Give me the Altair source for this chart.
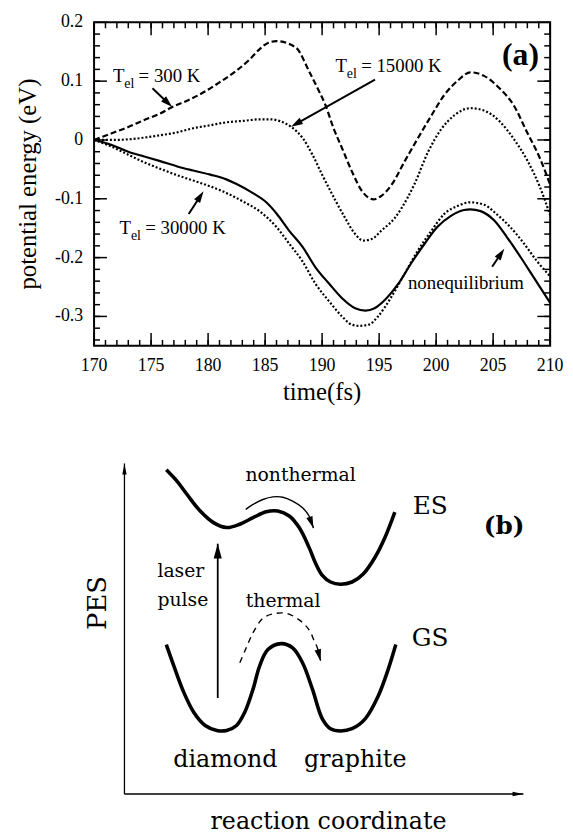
import math
import altair as alt
import pandas as pd

# ---------------- panel (a): potential energy vs time ----------------
t300 = [170, 171.5, 173, 174.4, 175.8, 176.85, 178.2, 179.6, 181, 182.5, 183.65, 184.5, 185.25, 186, 187.7,
        188.9, 189.7, 190.3, 191, 191.75, 192.6, 193.5, 194.5, 195.2, 196.1, 197.25, 198.4, 199.6, 200.7,
        201.9, 203, 204.2, 205.6, 206.8, 207.95, 209.1, 210]
e300 = [0, 0.011, 0.022, 0.034, 0.045, 0.056, 0.067, 0.081, 0.098, 0.118, 0.137, 0.154, 0.165, 0.168, 0.157,
        0.115, 0.084, 0.059, 0.020, -0.014, -0.053, -0.087, -0.101, -0.095, -0.076, -0.036, 0.003, 0.042, 0.076,
        0.101, 0.115, 0.109, 0.087, 0.059, 0.014, -0.031, -0.076]

t15000 = [170, 171.5, 173, 174.4, 175.8, 177.3, 178.7, 180.2, 181.6, 183.1, 184.5, 185.5, 186.3, 187.3, 188.3,
          189.15, 190, 191.2, 192, 192.9, 193.6, 194.4, 195.2, 196.4, 197.5, 198.1, 199.3, 200.4, 201.6, 203,
          204.2, 205.6, 206.8, 208, 209.1, 210]
e15000 = [0, 0.0, 0.001, 0.004, 0.008, 0.013, 0.020, 0.025, 0.030, 0.0325, 0.035, 0.035, 0.032, 0.022, 0.003,
          -0.025, -0.059, -0.104, -0.132, -0.160, -0.171, -0.168, -0.154, -0.132, -0.098, -0.075, -0.020, 0.017,
          0.042, 0.054, 0.050, 0.031, 0.002, -0.035, -0.080, -0.128]

t30000 = [170, 171.5, 173, 174.4, 175.8, 177.3, 178.7, 180.2, 181.6, 183.1, 184.5, 186, 187.1, 188.3, 189.4,
          190.6, 191.75, 192.6, 193.2, 194.1, 194.9, 196.1, 197.25, 198.4, 199.6, 200.7, 201.9, 203, 204.2,
          205.3, 206.5, 207.7, 208.8, 210]
e30000 = [0, -0.011, -0.025, -0.038, -0.049, -0.060, -0.069, -0.079, -0.090, -0.105, -0.121, -0.148, -0.176,
          -0.207, -0.244, -0.274, -0.300, -0.314, -0.316, -0.314, -0.300, -0.266, -0.227, -0.188, -0.154, -0.126,
          -0.112, -0.106, -0.110, -0.126, -0.148, -0.176, -0.205, -0.232]

tneq = [170, 171.5, 173, 174.4, 175.8, 177.3, 178.7, 180.2, 181.6, 182.5, 183.9, 185.1, 186, 187.1, 188.3, 189.4,
        190.6, 191.75, 192.9, 193.8, 194.6, 195.5, 196.7, 197.8, 199, 200.1, 201.3, 202.45, 203, 203.9, 205.1,
        206.2, 207.4, 208.5, 210]
eneq = [0, -0.008, -0.020, -0.028, -0.036, -0.045, -0.052, -0.059, -0.067, -0.075, -0.090, -0.106, -0.125,
        -0.154, -0.182, -0.216, -0.244, -0.269, -0.286, -0.290, -0.286, -0.272, -0.244, -0.210, -0.176, -0.148,
        -0.129, -0.119, -0.118, -0.121, -0.137, -0.165, -0.199, -0.232, -0.277]

label_temps = ["300", "15000", "30000"]
label_t = [171.65, 191.17, 172.23]
label_e = [0.0992, 0.1148, -0.1596]

arrow_tail_t = [175.12, 194.64, 178.30, 204.91]
arrow_tail_e = [0.088, 0.1026, -0.126, -0.2156]
arrow_tip_t = [176.85, 187.27, 179.6, 205.98]
arrow_tip_e = [0.056, 0.0224, -0.087, -0.1848]

noneq_text = ["nonequilibrium"]
noneq_t = [197.53]
noneq_e = [-0.2537]

tag_a = ["(a)"]
tag_a_t = [207.4]
tag_a_e = [0.1278]

x_major = list(range(170, 211, 5))
x_labels = [str(v) for v in x_major]
x_minor = list(range(170, 211))
y_major = [-0.3, -0.2, -0.1, 0.0, 0.1, 0.2]
y_labels = ["-0.3", "-0.2", "-0.1", "0", "0.1", "0.2"]
y_minor = [round(-0.34 + 0.02 * i, 2) for i in range(27)]
x_title = ["time(fs)"]
y_title = ["potential energy (eV)"]

# ---------------- panel (b): schematic PES ----------------
es_x = [73, 84, 94, 107.3, 120.7, 134, 147.3, 160.7, 174, 185.7, 197.3, 207.3, 217.3, 224, 230.7, 239, 249,
        260.7, 272.3, 284, 294, 304]
es_y = [361.7, 350, 336.7, 320, 308.3, 303.3, 306.7, 313.3, 319.3, 320, 315, 303.3, 283.3, 267, 255, 248.3, 246,
        248.3, 256.7, 273.3, 293.3, 319]
gs_x = [73, 80.7, 90.7, 100.7, 112.3, 124, 134, 144, 152.3, 160.7, 167.3, 175.7, 189, 200.7, 210.7, 220.7,
        230.7, 239, 249, 260.7, 274, 287.3, 297.3, 305]
gs_y = [185, 163.3, 136.7, 116.7, 103.3, 98.3, 98.3, 103.3, 116.7, 140, 163.3, 180, 186, 181.7, 166.7, 140,
        110, 100, 97.7, 100, 110, 133.3, 160, 185]
nt_x = [153.3, 160.7, 170.7, 180.7, 190.7, 200.7, 210.7, 217.3, 221.7]
nt_y = [321.7, 326.7, 331.7, 334.3, 334, 330, 323.3, 315, 302.7]
th_x = [147.3, 152.3, 157.3, 162.3, 170.7, 180.7, 194, 207.3, 217.3, 222, 225.7, 229]
th_y = [166.7, 178.3, 190, 200, 211.7, 216, 216.7, 210, 200, 190, 181.7, 168.3]
laser_x = [125, 125]
laser_y = [131, 287]
vaxis_x = [30.7, 30.7]
vaxis_y = [34, 368]
haxis_x = [30.7, 434]
haxis_y = [34, 34]

b_small_text = ["nonthermal", "thermal", "laser", "pulse"]
b_small_x = [153, 153.3, 64, 64]
b_small_y = [350, 223.3, 253.3, 224.3]
b_state_text = ["ES", "GS"]
b_state_x = [322, 321]
b_state_y = [317, 183.3]
b_phase_text = ["diamond", "graphite"]
b_phase_x = [80, 212.3]
b_phase_y = [61.7, 61.7]
b_tag = ["(b)"]
b_tag_x = [394]
b_tag_y = [297]
b_xtitle = ["reaction coordinate"]
b_xtitle_x = [237]
b_xtitle_y = [-1]
b_ytitle = ["PES"]
b_ytitle_x = [4]
b_ytitle_y = [227]

# ---------------- helpers ----------------
SERIF = "Liberation Serif"
CM = "DejaVu Serif"
WA, HA = 461, 327
WB, HB = 461, 375
MAJOR, MINOR = 13, 6
T0, T1 = 170, 210
E0, E1 = -0.35, 0.2
kxa, kya = WA / (T1 - T0), HA / (E1 - E0)


def head_rows(tails, tips, kx, ky, length):
    rows = []
    for (x0, y0), (x1, y1) in zip(tails, tips):
        sdx = (x1 - x0) * kx
        sdy = -(y1 - y0) * ky
        n = math.hypot(sdx, sdy)
        ux, uy = sdx / n, sdy / n
        ang = math.degrees(math.atan2(ux, -uy)) % 360
        cx = x1 - ux * length / 2 / kx
        cy = y1 + uy * length / 2 / ky
        rows.append({"x": cx, "y": cy, "ang": ang, "x0": x0, "y0": y0})
    return pd.DataFrame(rows)


def arrow_shape(hw):
    return f"M0,-1L{hw},1L{-hw},1Z"


# ---------------- panel (a) ----------------
xs = alt.Scale(domain=[T0, T1], nice=False, zero=False)
ys = alt.Scale(domain=[E0, E1], nice=False, zero=False)


def X(field):
    return alt.X(f"{field}:Q", scale=xs, axis=None)


def Y(field):
    return alt.Y(f"{field}:Q", scale=ys, axis=None)


# inward ticks on all four sides, built as short two-point line segments
tick_rows = []
for side, vals, length in [("b", x_major, MAJOR), ("b", x_minor, MINOR), ("t", x_major, MAJOR),
                           ("t", x_minor, MINOR), ("l", y_major, MAJOR), ("l", y_minor, MINOR),
                           ("r", y_major, MAJOR), ("r", y_minor, MINOR)]:
    for i, v in enumerate(vals):
        tid = f"{side}{length}_{i}"
        if side == "b":
            pts = [(v, E0), (v, E0 + length / kya)]
        elif side == "t":
            pts = [(v, E1), (v, E1 - length / kya)]
        elif side == "l":
            pts = [(T0, v), (T0 + length / kxa, v)]
        else:
            pts = [(T1, v), (T1 - length / kxa, v)]
        for k, (tt, ee) in enumerate(pts):
            tick_rows.append({"t": tt, "e": ee, "tid": tid, "k": k})
ticks_df = pd.DataFrame(tick_rows)

ticks_layer = alt.Chart(ticks_df).mark_line(color="black", strokeWidth=1.5).encode(
    x=X("t"), y=Y("e"), detail="tid:N", order="k:Q")


def curve(t, e, **kw):
    return alt.Chart(pd.DataFrame({"t": t, "e": e})).mark_line(
        color="black", strokeWidth=2.2, interpolate="monotone", **kw
    ).encode(x=X("t"), y=Y("e"))


heads_a = head_rows(list(zip(arrow_tail_t, arrow_tail_e)), list(zip(arrow_tip_t, arrow_tip_e)), kxa, kya, 12)

arrow_lines_a = alt.Chart(heads_a).mark_rule(color="black", strokeWidth=2).encode(
    x=X("x0"), y=Y("y0"), x2="x:Q", y2="y:Q")
arrow_heads_a = alt.Chart(heads_a).mark_point(
    shape=arrow_shape(0.6), filled=True, color="black", opacity=1, size=144, strokeWidth=0
).encode(x=X("x"), y=Y("y"), angle=alt.Angle("ang:Q", scale=None))

lab_df = pd.DataFrame({"t": label_t, "e": label_e, "temp": label_temps})
lab_df["rest"] = "= " + lab_df["temp"] + " K"


def text_a(df, field, **kw):
    return alt.Chart(df).mark_text(color="black", font=SERIF, **kw).encode(
        x=X("t"), y=Y("e"), text=f"{field}:N")


lab_T = text_a(lab_df.assign(T="T"), "T", align="left", baseline="alphabetic", fontSize=19)
lab_el = text_a(lab_df.assign(el="el"), "el", align="left", baseline="alphabetic", fontSize=14, dx=11.5, dy=6)
lab_rest = text_a(lab_df, "rest", align="left", baseline="alphabetic", fontSize=19, dx=26)
noneq = text_a(pd.DataFrame({"t": noneq_t, "e": noneq_e, "s": noneq_text}), "s", align="left",
               baseline="alphabetic", fontSize=19)
tag_a_layer = text_a(pd.DataFrame({"t": tag_a_t, "e": tag_a_e, "s": tag_a}), "s", align="center",
                     baseline="alphabetic", fontSize=32, fontWeight="bold")

# tick labels and axis titles (drawn as text at the axis edges)
xlab = text_a(pd.DataFrame({"t": x_major, "e": [E0] * len(x_major), "s": x_labels}), "s",
              align="center", baseline="alphabetic", fontSize=18, dy=25)
ylab = text_a(pd.DataFrame({"t": [T0] * len(y_major), "e": y_major, "s": y_labels}), "s",
              align="right", baseline="middle", fontSize=18, dx=-11)
xtit = text_a(pd.DataFrame({"t": [(T0 + T1) / 2], "e": [E0], "s": x_title}), "s",
              align="center", baseline="alphabetic", fontSize=25, dy=55)
ytit = text_a(pd.DataFrame({"t": [T0 - 67 / kxa], "e": [(E0 + E1) / 2], "s": y_title}), "s",
              align="center", baseline="middle", fontSize=25, angle=270)

panel_a = alt.layer(
    curve(t300, e300, strokeDash=[6, 3]),
    curve(t15000, e15000, strokeDash=[2, 2]),
    curve(t30000, e30000, strokeDash=[2, 2]),
    curve(tneq, eneq),
    ticks_layer,
    arrow_lines_a, arrow_heads_a,
    lab_T, lab_el, lab_rest, noneq, tag_a_layer,
    xlab, ylab, xtit, ytit,
).properties(width=WA, height=HA, view=alt.ViewBackground(stroke="black", strokeWidth=2))

# ---------------- panel (b) ----------------
bxs = alt.Scale(domain=[0, WB], nice=False, zero=False)
bys = alt.Scale(domain=[0, HB], nice=False, zero=False)


def bx(field="x"):
    return alt.X(f"{field}:Q", scale=bxs, axis=None)


def by(field="y"):
    return alt.Y(f"{field}:Q", scale=bys, axis=None)


def path_b(xv, yv, **kw):
    return alt.Chart(pd.DataFrame({"x": xv, "y": yv, "o": list(range(len(xv)))})).mark_line(
        color="black", **kw).encode(x=bx(), y=by(), order="o:Q")


def heads_b(xv, yv, length, hw):
    df = head_rows([(xv[-2], yv[-2])], [(xv[-1], yv[-1])], 1, 1, length)
    return alt.Chart(df).mark_point(shape=arrow_shape(hw), filled=True, color="black", opacity=1,
                                    size=length * length, strokeWidth=0).encode(
        x=bx(), y=by(), angle=alt.Angle("ang:Q", scale=None))


def text_b(txt, xv, yv, **kw):
    return alt.Chart(pd.DataFrame({"x": xv, "y": yv, "s": txt})).mark_text(
        color="black", font=CM, **kw).encode(x=bx(), y=by(), text="s:N")


panel_b = alt.layer(
    path_b(vaxis_x, vaxis_y, strokeWidth=1.3),
    heads_b(vaxis_x, vaxis_y, 11, 0.4),
    path_b(haxis_x, haxis_y, strokeWidth=1.3),
    heads_b(haxis_x, haxis_y, 11, 0.4),
    path_b(es_x, es_y, strokeWidth=3.6, interpolate="catmull-rom"),
    path_b(gs_x, gs_y, strokeWidth=3.6, interpolate="catmull-rom"),
    path_b(laser_x, laser_y, strokeWidth=1.8),
    heads_b(laser_x, laser_y, 15, 0.55),
    path_b(nt_x, nt_y, strokeWidth=1.4, interpolate="catmull-rom"),
    heads_b(nt_x, nt_y, 12, 0.55),
    path_b(th_x, th_y, strokeWidth=1.4, interpolate="catmull-rom", strokeDash=[6, 5]),
    heads_b(th_x, th_y, 12, 0.55),
    text_b(b_small_text, b_small_x, b_small_y, align="left", baseline="alphabetic", fontSize=19),
    text_b(b_state_text, b_state_x, b_state_y, align="left", baseline="alphabetic", fontSize=25),
    text_b(b_phase_text, b_phase_x, b_phase_y, align="left", baseline="alphabetic", fontSize=24),
    text_b(b_tag, b_tag_x, b_tag_y, align="left", baseline="alphabetic", fontSize=25, fontWeight="bold"),
    text_b(b_xtitle, b_xtitle_x, b_xtitle_y, align="center", baseline="alphabetic", fontSize=24),
    text_b(b_ytitle, b_ytitle_x, b_ytitle_y, align="center", baseline="middle", fontSize=26, angle=270),
).properties(width=WB, height=HB)

chart = alt.vconcat(panel_a, panel_b, spacing=50).properties(
    padding={"left": 6, "top": 0, "right": 0, "bottom": 0}
).configure_view(stroke="transparent")

chart.save("out.html", embed_options={"renderer": "svg", "actions": False})
